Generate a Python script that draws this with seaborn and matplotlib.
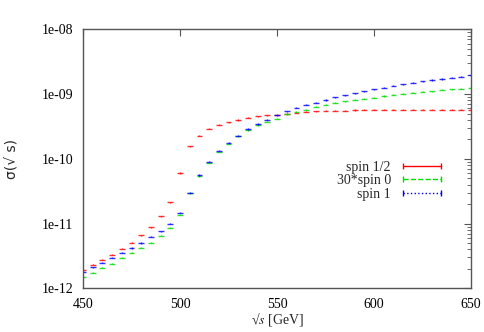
import matplotlib
matplotlib.use("Agg")
import matplotlib.pyplot as plt
from matplotlib.lines import Line2D
from matplotlib.ticker import FixedLocator, FixedFormatter, LogLocator, NullFormatter
import numpy as np
import pandas as pd
import seaborn as sns

# sqrt(s) in GeV, 5 GeV steps
sqrt_s = [450, 455, 460, 465, 470, 475, 480, 485, 490, 495,
          500, 505, 510, 515, 520, 525, 530, 535, 540, 545,
          550, 555, 560, 565, 570, 575, 580, 585, 590, 595,
          600, 605, 610, 615, 620, 625, 630, 635, 640, 645, 650]

spin_half = [1.95e-12, 2.32e-12, 2.78e-12, 3.31e-12, 4.10e-12, 5.08e-12, 6.58e-12, 8.75e-12, 1.29e-11, 2.13e-11,
             6.03e-11, 1.56e-10, 2.28e-10, 2.93e-10, 3.35e-10, 3.69e-10, 3.97e-10, 4.33e-10, 4.53e-10, 4.67e-10,
             4.83e-10, 4.99e-10, 5.19e-10, 5.32e-10, 5.38e-10, 5.55e-10, 5.55e-10, 5.56e-10, 5.67e-10, 5.71e-10,
             5.70e-10, 5.71e-10, 5.70e-10, 5.69e-10, 5.70e-10, 5.71e-10, 5.70e-10, 5.70e-10, 5.71e-10, 5.70e-10, 5.70e-10]

# already multiplied by 30
spin0_x30 = [1.52e-12, 1.75e-12, 2.09e-12, 2.41e-12, 2.98e-12, 3.56e-12, 4.25e-12, 5.08e-12, 6.51e-12, 8.66e-12,
             1.37e-11, 2.93e-11, 5.37e-11, 8.67e-11, 1.28e-10, 1.72e-10, 2.23e-10, 2.75e-10, 3.29e-10, 3.75e-10,
             4.18e-10, 4.87e-10, 5.32e-10, 5.75e-10, 6.40e-10, 6.87e-10, 7.38e-10, 7.73e-10, 8.21e-10, 8.51e-10,
             8.81e-10, 9.33e-10, 9.81e-10, 1.02e-09, 1.05e-09, 1.09e-09, 1.11e-09, 1.17e-09, 1.18e-09, 1.21e-09, 1.26e-09]

spin_one = [1.81e-12, 2.11e-12, 2.49e-12, 2.98e-12, 3.56e-12, 4.19e-12, 5.01e-12, 6.29e-12, 7.59e-12, 9.98e-12,
            1.48e-11, 3.01e-11, 5.62e-11, 9.05e-11, 1.34e-10, 1.78e-10, 2.28e-10, 2.89e-10, 3.45e-10, 4.03e-10,
            4.73e-10, 5.46e-10, 6.13e-10, 6.82e-10, 7.38e-10, 8.09e-10, 8.91e-10, 9.57e-10, 1.03e-09, 1.11e-09,
            1.18e-09, 1.26e-09, 1.35e-09, 1.42e-09, 1.50e-09, 1.57e-09, 1.65e-09, 1.71e-09, 1.79e-09, 1.86e-09, 1.95e-09]

series_names = ["spin 1/2", "30*spin 0", "spin 1"]
series_colors = ["#ff0000", "#00dd00", "#0000ff"]
legend_styles = ["-", "--", ":"]
ytick_vals = [1e-12, 1e-11, 1e-10, 1e-09, 1e-08]
ytick_labels = ["1e-12", "1e-11", "1e-10", "1e-09", "1e-08"]
xtick_vals = [450, 500, 550, 600, 650]

df = pd.DataFrame({"sqrt_s": sqrt_s * 3,
                   "sigma": spin_half + spin0_x30 + spin_one,
                   "series": [n for n in series_names for _ in sqrt_s]})

sns.set_style("white")
plt.rcParams["font.family"] = ["Liberation Serif", "DejaVu Serif"]
plt.rcParams["mathtext.fontset"] = "stix"

fig = plt.figure(figsize=(4.84, 3.32), dpi=100)
ax = fig.add_axes([0.1715, 0.1316, 0.8017, 0.7801])

# points drawn gnuplot-style as small error bars
for name, col in zip(series_names, series_colors):
    d = df[df["series"] == name]
    ax.errorbar(d["sqrt_s"], d["sigma"], xerr=1.5, yerr=d["sigma"] * 0.02,
                fmt="none", ecolor=col, elinewidth=1.0, capsize=0, alpha=0.8)

ax.set_yscale("log")
ax.set_xlim(450, 650)
ax.set_ylim(1e-12, 1e-8)
ax.yaxis.set_major_locator(FixedLocator(ytick_vals))
ax.yaxis.set_major_formatter(FixedFormatter(ytick_labels))
ax.yaxis.set_minor_locator(LogLocator(base=10, subs=np.arange(2, 10)))
ax.yaxis.set_minor_formatter(NullFormatter())
ax.set_xticks(xtick_vals)
ax.tick_params(which="both", direction="in", top=True, right=True,
               colors="#555555", labelcolor="black", labelsize=10, pad=7)
ax.tick_params(which="major", length=5)
ax.tick_params(which="minor", length=3)
for sp in ax.spines.values():
    sp.set_color("#555555")
    sp.set_linewidth(1.0)

ax.set_xlabel(r"√$s$ [GeV]", fontsize=10, labelpad=0)
ax.set_ylabel("σ(√ s)", fontsize=10, family=["DejaVu Sans"], labelpad=16)

handles = [Line2D([], [], color=c, ls=ls, lw=1, marker="|", markersize=5)
           for c, ls in zip(series_colors, legend_styles)]
ax.legend(handles, series_names, loc="center right", bbox_to_anchor=(0.965, 0.415),
          frameon=False, markerfirst=False, numpoints=2, handlelength=3.3,
          labelspacing=0.05, fontsize=10, handletextpad=0.6)

fig.savefig("out.png", dpi=100)
